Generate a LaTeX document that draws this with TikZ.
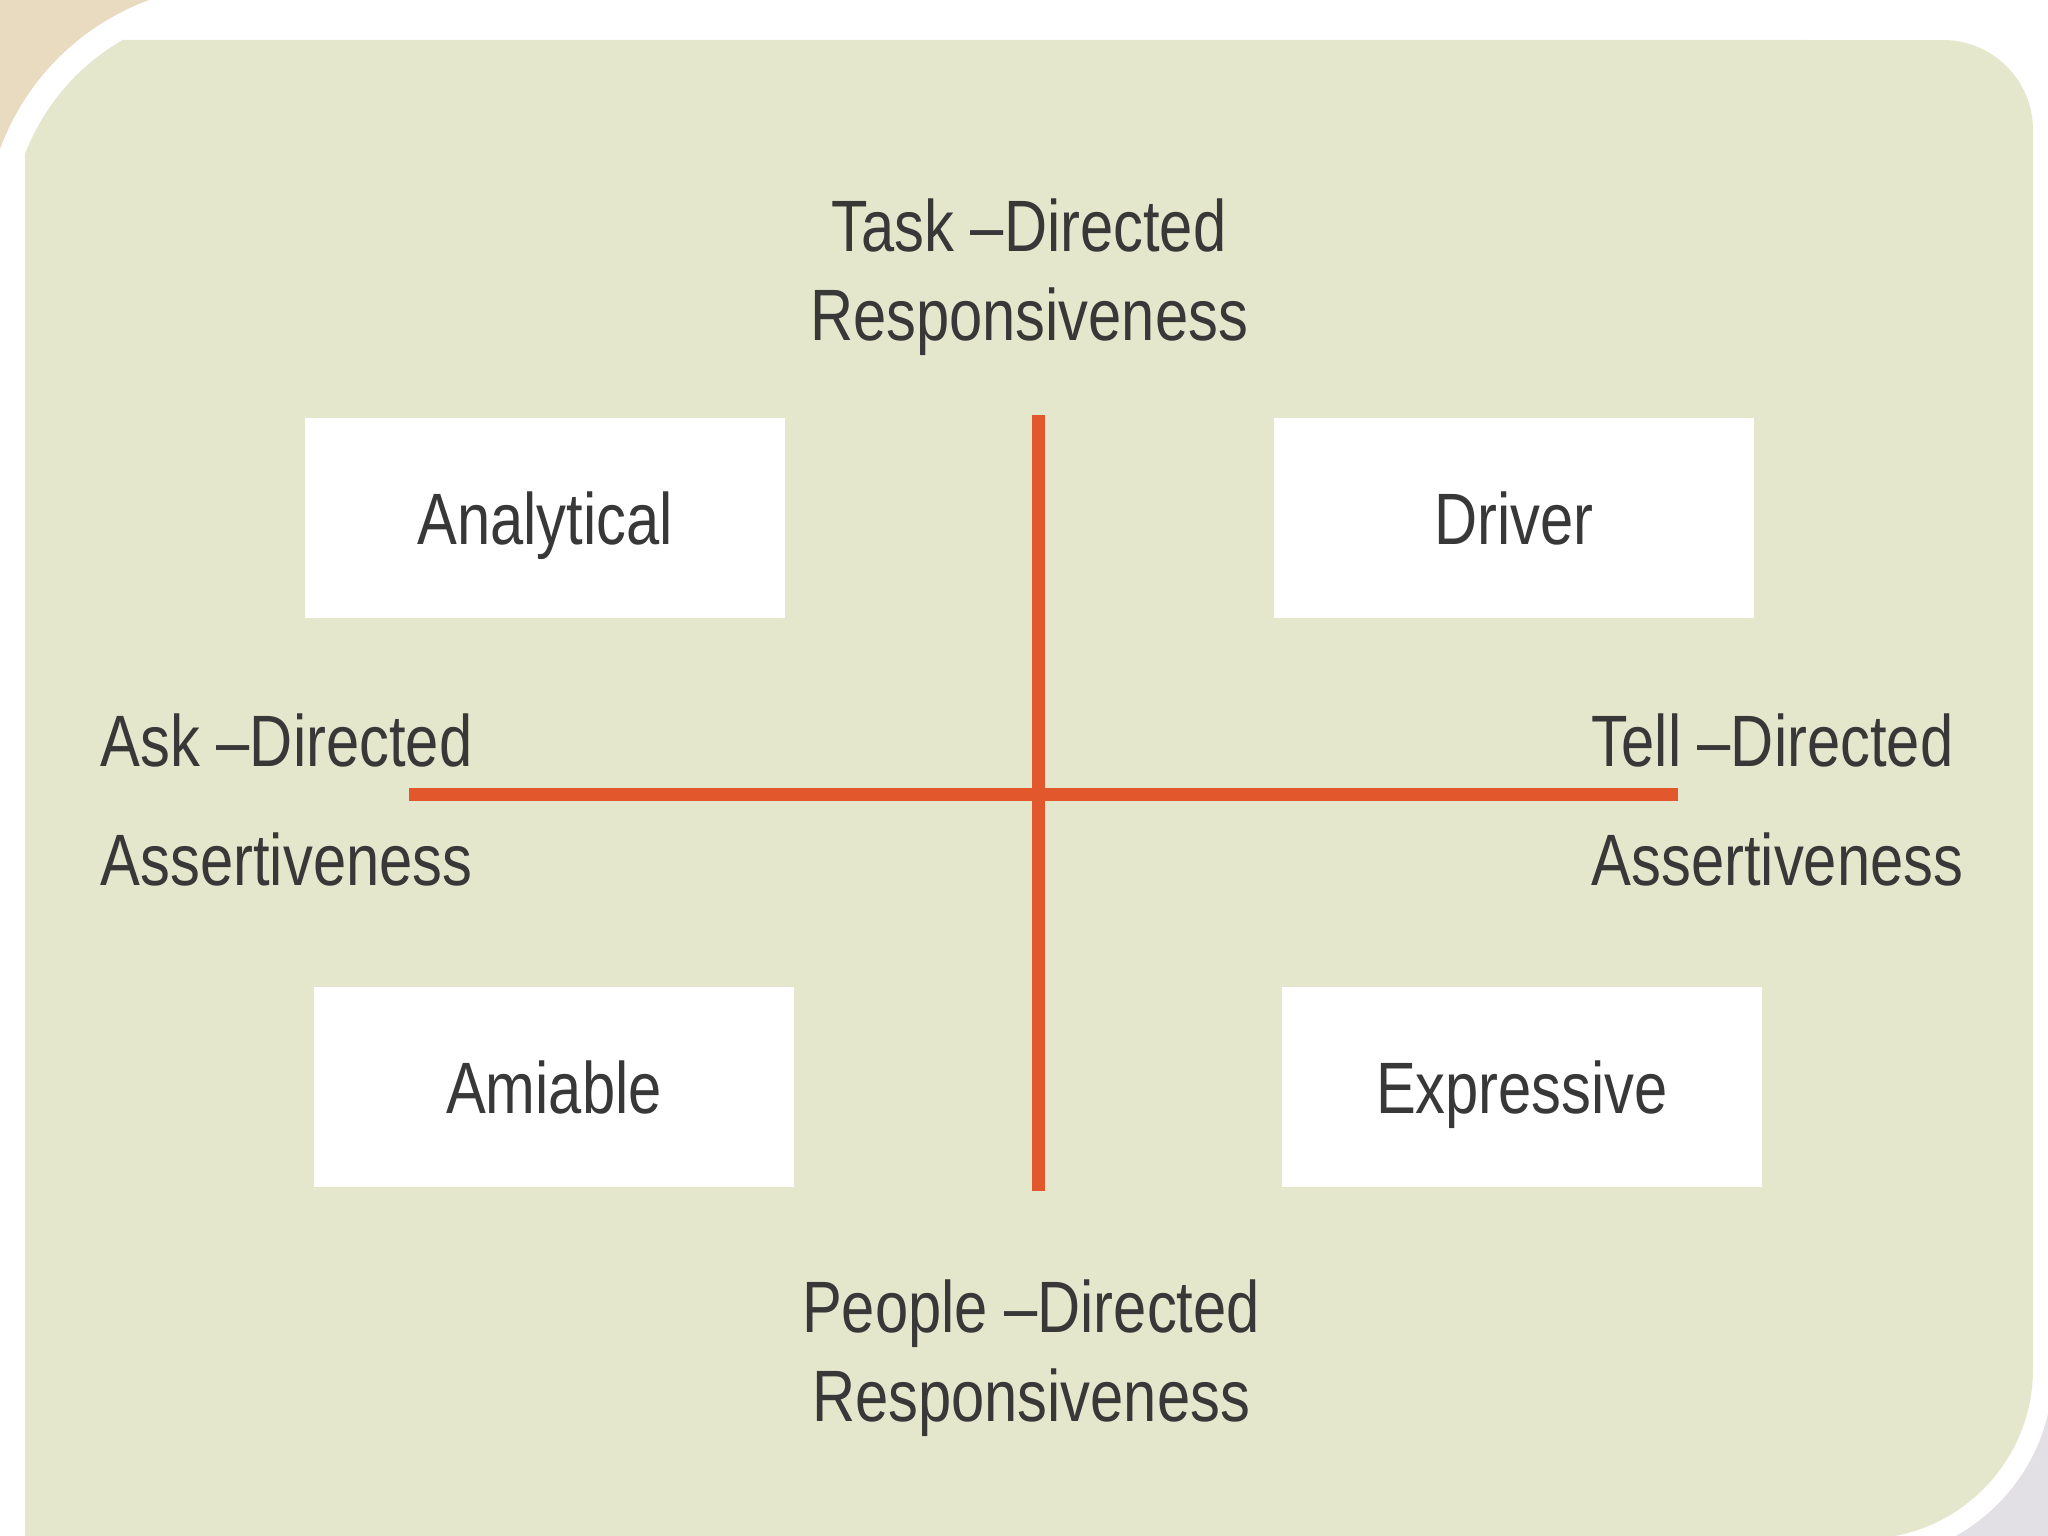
\documentclass[tikz,border=0pt]{standalone}
\usepackage{fontspec}
\setmainfont{Liberation Sans}[FakeStretch=0.82]
\usetikzlibrary{positioning}
\definecolor{panel}{HTML}{E5E7CD}
\definecolor{paper}{HTML}{E8DBC0}
\definecolor{checker}{HTML}{E2DFE5}
\definecolor{axisred}{HTML}{E2572B}
\definecolor{ink}{HTML}{383838}

\begin{document}
\begin{tikzpicture}[
        x=0.01cm, y=-0.01cm,
        font=\fontsize{20.7}{25.3}\selectfont,
        quadrant/.style={rectangle, fill=white, minimum width=4.8cm, minimum height=2cm, inner sep=0pt,
                         text height=14.8pt, text depth=0pt, text=ink},
        axislabel/.style={text=ink, inner sep=0pt, anchor=base},
        axis/.style={axisred, line width=3.7pt}
    ]
    \useasboundingbox (0,0) rectangle (2048,1536);

    % backdrop
    \fill[white] (0,0) rectangle (2048,1536);
    \fill[paper] (0,0) rectangle (260,260);
    \fill[checker] (1780,1330) rectangle (2048,1536);
    \fill[white] (-15,1600) -- (-15,235) arc[start angle=180, end angle=270, radius=250]
        -- (2053,-15) -- (2053,1370) arc[start angle=0, end angle=90, radius=190] -- (-15,1560) -- cycle;
    \fill[panel] (25,1600) -- (25,154) arc[start angle=201.1, end angle=240.1, radius=225]
        -- (1943,40) arc[start angle=270, end angle=360, radius=90]
        -- (2033,1369) arc[start angle=0, end angle=90, radius=170] -- (25,1539) -- cycle;

    % quadrants
    \node (analytical) [quadrant] at (545,518) {Analytical};
    \node (driver) [quadrant] at (1514,518) {Driver};
    \node (amiable) [quadrant] at (554,1087) {Amiable};
    \node (expressive) [quadrant] at (1522,1087) {Expressive};

    % axes
    \coordinate (taskend) at (1038,415);
    \coordinate (peopleend) at (1038,1191);
    \coordinate (askend) at (409,794);
    \coordinate (tellend) at (1678,794);
    \draw [axis] (taskend) -- (peopleend);
    \draw [axis] (askend) -- (tellend);

    % axis labels (base = last line)
    \node (task) [axislabel, align=center] at (1029,340) {Task --Directed\\Responsiveness};
    \node (people) [axislabel, align=center] at (1031,1421) {People --Directed\\Responsiveness};
    \node (ask) [axislabel, align=right, anchor=base east] at (473,885) {Ask --Directed\\[8.4pt]Assertiveness};
    \node (tell) [axislabel, align=left, anchor=base west] at (1591,885) {Tell --Directed\\[8.4pt]Assertiveness};

\end{tikzpicture}
\end{document}
